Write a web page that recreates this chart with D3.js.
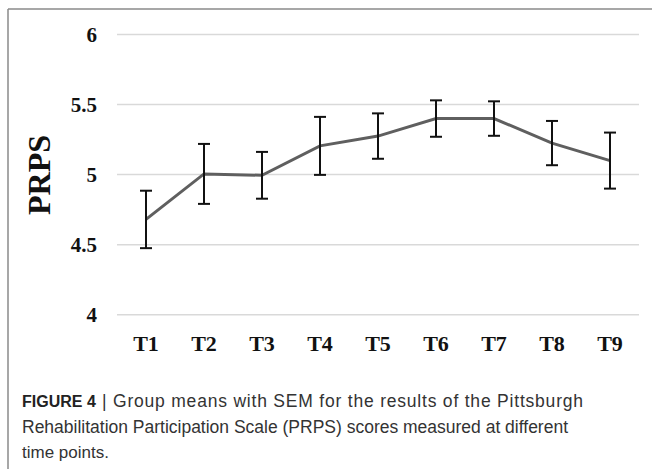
<!DOCTYPE html>
<html>
<head>
<meta charset="utf-8">
<script src="https://cdn.jsdelivr.net/npm/d3@7"></script>
<style>
  body { margin: 0; background: #fff; }
</style>
</head>
<body>
<script>
var timePoints = ["T1", "T2", "T3", "T4", "T5", "T6", "T7", "T8", "T9"];
var means = [4.68, 5.005, 4.995, 5.205, 5.275, 5.40, 5.40, 5.225, 5.10];
var sem = [0.205, 0.214, 0.167, 0.207, 0.162, 0.13, 0.123, 0.158, 0.20];
var yTicks = [4, 4.5, 5, 5.5, 6];
var yTickLabels = ["4", "4.5", "5", "5.5", "6"];

var width = 652;
var height = 469;

var svg = d3.select("body").append("svg").attr("width", width).attr("height", height);

// frame around figure
svg.append("line").attr("x1", 8).attr("x2", width).attr("y1", 9).attr("y2", 9)
  .attr("stroke", "#8a8a8a").attr("stroke-width", 1.5);
svg.append("line").attr("x1", 8).attr("x2", 8).attr("y1", 9).attr("y2", height)
  .attr("stroke", "#8a8a8a").attr("stroke-width", 1.5);

var x = d3.scaleBand().domain(timePoints).range([117, 639]);
var y = d3.scaleLinear().domain([4, 6]).range([314.7, 34.5]);

// gridlines
svg.append("g")
  .selectAll("line")
  .data(yTicks)
  .enter()
  .append("line")
  .attr("x1", 117)
  .attr("x2", 639)
  .attr("y1", (d) => y(d))
  .attr("y2", (d) => y(d))
  .attr("stroke", "#d9d9d9")
  .attr("stroke-width", 1.5);

// y tick labels
svg.append("g")
  .selectAll("text")
  .data(yTicks)
  .enter()
  .append("text")
  .attr("x", 97)
  .attr("y", (d) => y(d) + 7)
  .attr("text-anchor", "end")
  .attr("font-family", "'Liberation Serif', 'Times New Roman', serif")
  .attr("font-weight", "bold")
  .attr("font-size", 21)
  .attr("fill", "#111")
  .text((d, i) => yTickLabels[i]);

// x tick labels
svg.append("g")
  .selectAll("text")
  .data(timePoints)
  .enter()
  .append("text")
  .attr("x", (d) => x(d) + x.bandwidth() / 2)
  .attr("y", 351)
  .attr("text-anchor", "middle")
  .attr("font-family", "'Liberation Serif', 'Times New Roman', serif")
  .attr("font-weight", "bold")
  .attr("font-size", 22)
  .attr("fill", "#111")
  .text((d) => d);

// axis title
svg.append("text")
  .attr("transform", "translate(50,175) rotate(-90)")
  .attr("text-anchor", "middle")
  .attr("font-family", "'Liberation Serif', 'Times New Roman', serif")
  .attr("font-weight", "bold")
  .attr("font-size", 32)
  .attr("fill", "#111")
  .text("PRPS");

// mean line
var line = d3.line()
  .x((d, i) => x(timePoints[i]) + x.bandwidth() / 2)
  .y((d) => y(d));

svg.append("path")
  .datum(means)
  .attr("d", line)
  .attr("fill", "none")
  .attr("stroke", "#5f5f5f")
  .attr("stroke-width", 3);

// error bars
var bars = svg.append("g")
  .selectAll("g")
  .data(means)
  .enter()
  .append("g")
  .attr("transform", (d, i) => "translate(" + (x(timePoints[i]) + x.bandwidth() / 2) + ",0)");

bars.append("line")
  .attr("x1", 0).attr("x2", 0)
  .attr("y1", (d, i) => y(d + sem[i]))
  .attr("y2", (d, i) => y(d - sem[i]))
  .attr("stroke", "#111").attr("stroke-width", 2);
bars.append("line")
  .attr("x1", -6).attr("x2", 6)
  .attr("y1", (d, i) => y(d + sem[i]))
  .attr("y2", (d, i) => y(d + sem[i]))
  .attr("stroke", "#111").attr("stroke-width", 2);
bars.append("line")
  .attr("x1", -6).attr("x2", 6)
  .attr("y1", (d, i) => y(d - sem[i]))
  .attr("y2", (d, i) => y(d - sem[i]))
  .attr("stroke", "#111").attr("stroke-width", 2);

// caption
var capFont = "'Liberation Sans', Arial, sans-serif";
svg.append("text")
  .attr("x", 22).attr("y", 407)
  .attr("font-family", capFont)
  .attr("font-size", 16)
  .attr("font-weight", "bold")
  .attr("fill", "#222")
  .text("FIGURE 4");
svg.append("text")
  .attr("x", 102).attr("y", 407)
  .attr("font-family", capFont)
  .attr("font-size", 17.5)
  .attr("fill", "#333")
  .attr("textLength", 481)
  .attr("lengthAdjust", "spacing")
  .text("| Group means with SEM for the results of the Pittsburgh");
svg.append("text")
  .attr("x", 22).attr("y", 432.5)
  .attr("font-family", capFont)
  .attr("font-size", 17.5)
  .attr("fill", "#333")
  .attr("textLength", 546)
  .attr("lengthAdjust", "spacing")
  .text("Rehabilitation Participation Scale (PRPS) scores measured at different");
svg.append("text")
  .attr("x", 22).attr("y", 458)
  .attr("font-family", capFont)
  .attr("font-size", 17)
  .attr("fill", "#333")
  .text("time points.");
</script>
</body>
</html>
